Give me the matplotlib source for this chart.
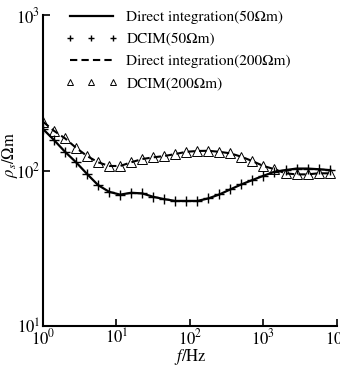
import numpy as np
import matplotlib
matplotlib.use('Agg')
import matplotlib.pyplot as plt
from matplotlib.ticker import LogLocator, LogFormatterMathtext, NullLocator

plt.rcParams['font.family'] = ['STIXGeneral', 'DejaVu Serif']
plt.rcParams['mathtext.fontset'] = 'stix'

# frequency samples (Hz), log10 exponent
log_f = [0.0, 0.15, 0.3, 0.45, 0.6, 0.75, 0.9, 1.05, 1.2, 1.35, 1.5, 1.65, 1.8,
         1.95, 2.1, 2.25, 2.4, 2.55, 2.7, 2.85, 3.0, 3.15, 3.3, 3.45, 3.6, 3.75, 3.9]
freq = [10 ** v for v in log_f]

# apparent resistivity, 50 ohm-m
rho50_direct = [185, 157, 132, 113, 95, 80.6, 73, 70, 72, 71.3, 67.8, 65.5, 63.8,
                63.8, 63.8, 66.2, 70.2, 75.7, 81.5, 86.9, 92.6, 98.2, 100.7, 103, 103, 102, 100.7]
rho50_dcim = [185, 157, 132, 113, 95, 80.6, 73, 70, 72, 71.3, 67.8, 65.5, 63.8,
              63.8, 63.8, 66.2, 70.2, 75.7, 81.5, 86.9, 92.6, 98.2, 100.7, 103, 103, 102, 100.7]

# apparent resistivity, 200 ohm-m
rho200_direct = [206, 180, 161, 140, 124, 113, 107, 107, 113, 118.6, 121.6, 124, 127.7,
                 132, 133.6, 134, 132, 129, 122.7, 115, 107, 102, 96, 94.5, 94.5, 96, 96]
rho200_dcim = [206, 180, 161, 140, 124, 113, 107, 107, 113, 118.6, 121.6, 124, 127.7,
               132, 133.6, 134, 132, 129, 122.7, 115, 107, 102, 96, 94.5, 94.5, 96, 96]

fig = plt.figure(figsize=(3.40, 3.66), dpi=100)
ax = fig.add_axes([0.1265, 0.109, 0.8645, 0.85])

ax.plot(freq, rho50_direct, '-', c='k', lw=1.6, label='Direct integration(50\u03a9m)')
ax.plot(freq, rho50_dcim, '+', c='k', ms=6.5, mew=1.0, ls='none', label='DCIM(50\u03a9m)')
ax.plot(freq, rho200_direct, '--', c='k', lw=1.5, dashes=(3.5, 2), label='Direct integration(200\u03a9m)')
ax.plot(freq, rho200_dcim, '^', c='k', mfc='none', ms=6.5, mew=0.7, ls='none', label='DCIM(200\u03a9m)')

ax.set_xscale('log')
ax.set_yscale('log')
ax.set_xlim(1, 1e4)
ax.set_ylim(10, 1000)

for a in (ax.xaxis, ax.yaxis):
    a.set_major_locator(LogLocator(base=10))
    a.set_major_formatter(LogFormatterMathtext())
    a.set_minor_locator(NullLocator())

ax.spines['top'].set_visible(False)
ax.spines['right'].set_visible(False)
ax.spines['left'].set_linewidth(1.5)
ax.spines['bottom'].set_linewidth(1.5)
ax.tick_params(direction='in', length=5, width=1.2, labelsize=12, pad=2)

ax.set_xlabel('$f$/Hz', fontsize=12)
ax.xaxis.set_label_coords(0.5, -0.066)
ax.set_ylabel(r'$\rho_s$/$\Omega$m', fontsize=12)
ax.yaxis.set_label_coords(-0.078, 0.55)

leg = ax.legend(loc='upper left', frameon=False, fontsize=11, numpoints=3,
                markerscale=0.75, handlelength=3.4, handletextpad=0.6,
                labelspacing=0.55, borderaxespad=0.0, bbox_to_anchor=(0.055, 1.035))

fig.savefig('out.png', dpi=100)
